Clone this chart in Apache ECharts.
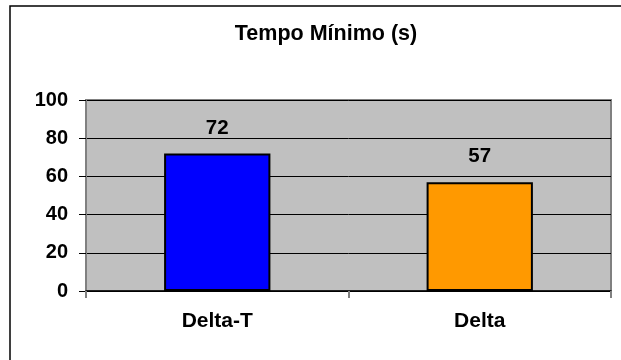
<!DOCTYPE html>
<html>
<head>
<meta charset="utf-8">
<script src="https://cdn.jsdelivr.net/npm/echarts@6/dist/echarts.min.js"></script>
<style>html,body{margin:0;padding:0;background:#fff}#c{width:621px;height:360px}</style>
</head>
<body>
<div id="c"></div>
<script>
const titleText = 'Tempo Mínimo (s)';
const categories = ['Delta-T', 'Delta'];
const values = [72, 57];
const barColors = ['#0000FF', '#FF9900'];
const yTicks = [0, 20, 40, 60, 80, 100];

const chart = echarts.init(document.getElementById('c'), null, {renderer: 'canvas'});
const font = 'Arial, "Liberation Sans", sans-serif';
chart.setOption({
  animation: false,
  backgroundColor: '#fff',
  title: {
    text: titleText, left: 321, top: 18, textAlign: 'center',
    textStyle: {fontFamily: font, fontWeight: 'bold', fontSize: 21.5, color: '#000'}
  },
  graphic: [{
    type: 'rect', shape: {x: 10, y: 6, width: 700, height: 400},
    style: {fill: 'none', stroke: '#000', lineWidth: 1.5}, silent: true, z: 100
  }],
  grid: {
    left: 86, right: 10, top: 100, bottom: 69,
    show: true, backgroundColor: '#C0C0C0', borderColor: '#808080', borderWidth: 2
  },
  xAxis: {
    type: 'category', data: categories, boundaryGap: true,
    axisLine: {lineStyle: {color: '#000', width: 1.5}},
    axisTick: {show: true, length: 7, lineStyle: {color: '#808080', width: 2}},
    axisLabel: {fontFamily: font, fontWeight: 'bold', fontSize: 21, color: '#000', margin: 20}
  },
  yAxis: {
    type: 'value', min: yTicks[0], max: yTicks[yTicks.length - 1], interval: 20,
    axisLine: {show: true, lineStyle: {color: '#808080', width: 2}},
    axisTick: {show: true, length: 7, lineStyle: {color: '#000', width: 1}},
    splitLine: {show: true, lineStyle: {color: '#000', width: 1}},
    axisLabel: {fontFamily: font, fontWeight: 'bold', fontSize: 20, color: '#000', margin: 18}
  },
  series: [{
    type: 'bar', barWidth: '40.5%',
    data: values.map((v, i) => ({value: v, itemStyle: {color: barColors[i]}})),
    itemStyle: {borderColor: '#000', borderWidth: 2},
    label: {show: true, position: 'top', distance: 15, fontFamily: font, fontWeight: 'bold', fontSize: 20.5, color: '#000'}
  }]
});
</script>
</body>
</html>
